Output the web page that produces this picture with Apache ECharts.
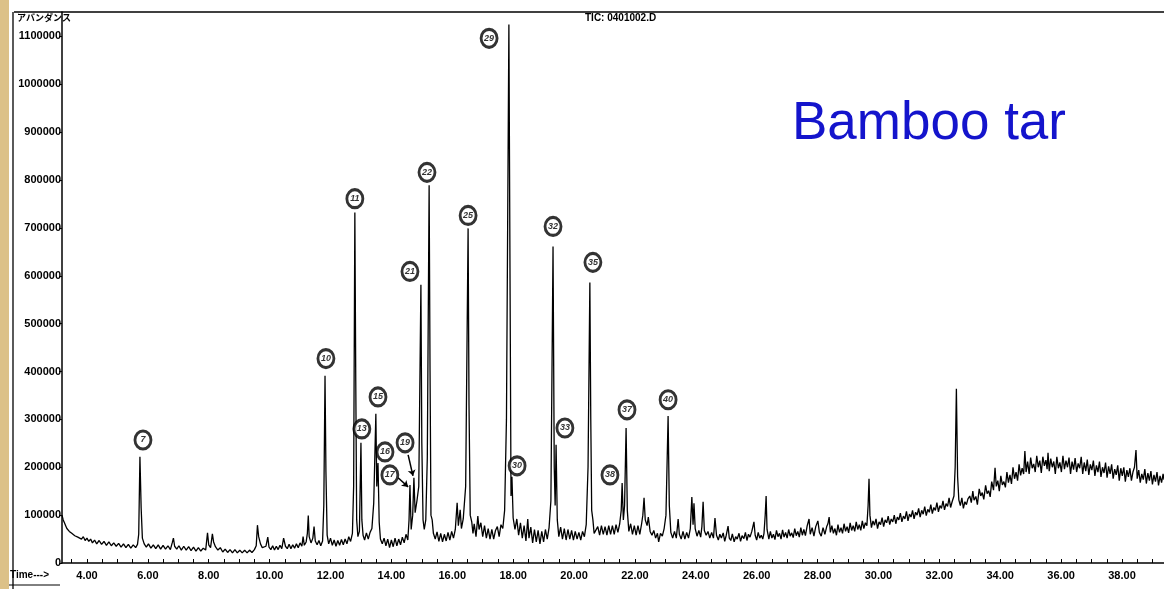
<!DOCTYPE html>
<html><head><meta charset="utf-8">
<script src="https://cdn.jsdelivr.net/npm/echarts@6/dist/echarts.min.js"></script>
<style>html,body{margin:0;padding:0;background:#fff}#c{width:1164px;height:589px}</style>
</head><body><div id="c"></div>
<script>
// retention time (min), abundance (thousands)
const traceA = [[3.18,100],[3.22,90],[3.26,84],[3.30,78],[3.34,72],[3.38,75],[3.42,66],[3.46,70],[3.50,62],[3.55,66],[3.60,57],[3.65,61],[3.70,54],[3.76,58],[3.82,50],[3.88,55],[3.94,47],[4.00,52],[4.06,45],[4.12,50],[4.18,42],[4.25,48],[4.32,40],[4.40,47],[4.48,39],[4.56,45],[4.64,37],[4.72,44],[4.80,36],[4.88,42],[4.96,35],[5.04,41],[5.12,33],[5.20,40],[5.28,32],[5.36,39],[5.44,31],[5.52,38],[5.60,32],[5.66,39],[5.70,60],[5.74,222],[5.78,115],[5.82,52],[5.88,40],[5.95,33],[6.02,40],[6.10,31],[6.18,38],[6.26,30],[6.34,38],[6.42,29],[6.50,37],[6.58,29],[6.66,36],[6.74,28],[6.80,42],[6.84,52],[6.88,35],[6.95,29],[7.02,36],[7.10,27],[7.18,35],[7.26,27],[7.34,34],[7.42,26],[7.50,33],[7.58,25],[7.66,32],[7.74,25],[7.82,31],[7.90,27],[7.96,63],[8.00,38],[8.06,32],[8.12,61],[8.16,44],[8.22,34],[8.30,27],[8.38,32],[8.46,23],[8.54,29],[8.62,22],[8.70,28],[8.78,21],[8.86,28],[8.94,21],[9.02,27],[9.10,21],[9.18,27],[9.26,21],[9.34,27],[9.42,22]];
const traceB = [[9.50,28],[9.56,36],[9.60,79],[9.64,55],[9.70,40],[9.76,32],[9.82,29],[9.88,35],[9.94,54],[9.98,33],[10.04,28],[10.10,36],[10.16,27],[10.22,35],[10.28,28],[10.34,37],[10.40,30],[10.46,52],[10.52,35],[10.58,30],[10.64,39],[10.70,30],[10.76,38],[10.82,31],[10.88,40],[10.94,32],[11.00,42],[11.06,35],[11.10,55],[11.14,37],[11.20,44],[11.24,62],[11.27,99],[11.30,55],[11.36,42],[11.42,52],[11.46,76],[11.50,46],[11.56,38],[11.62,47],[11.68,36],[11.74,46],[11.78,120],[11.82,391],[11.85,190],[11.89,58],[11.94,40],[12.00,52],[12.06,37],[12.12,48],[12.18,35],[12.24,47],[12.30,37],[12.36,49],[12.42,38],[12.48,50],[12.54,40],[12.60,55],[12.66,45],[12.72,62],[12.76,160],[12.80,732],[12.83,380],[12.86,90],[12.90,55],[12.95,66],[13.00,251],[13.03,90],[13.07,58],[13.12,48],[13.18,63],[13.24,50],[13.30,64],[13.36,72],[13.42,125],[13.49,312],[13.52,160],[13.56,209],[13.60,85],[13.64,50],[13.70,40],[13.76,52],[13.82,36],[13.88,50],[13.94,32],[14.00,48],[14.06,34],[14.12,52],[14.18,36],[14.24,50],[14.30,38],[14.36,54],[14.42,42],[14.48,60],[14.54,48],[14.58,90],[14.61,163],[14.65,70],[14.70,100],[14.74,178],[14.78,105],[14.84,130],[14.90,160],[14.97,581],[15.00,250],[15.04,90],[15.08,70],[15.13,90],[15.18,220],[15.24,789],[15.27,400],[15.30,100],[15.34,90],[15.38,62]];
const traceC = [[15.44,50],[15.50,65],[15.56,45],[15.62,62],[15.68,44],[15.74,60],[15.80,46],[15.86,64],[15.92,48],[15.98,66],[16.04,52],[16.10,70],[16.16,126],[16.20,78],[16.26,111],[16.30,72],[16.36,92],[16.44,160],[16.52,699],[16.55,330],[16.59,100],[16.64,86],[16.68,62],[16.72,82],[16.78,55],[16.84,98],[16.88,70],[16.94,84],[17.00,55],[17.06,78],[17.12,52],[17.18,72],[17.24,50],[17.30,70],[17.36,50],[17.42,68],[17.48,76],[17.54,55],[17.60,80],[17.66,72],[17.72,110],[17.78,300],[17.86,1125],[17.90,560],[17.93,140],[17.96,180],[18.00,94],[18.06,70],[18.12,92],[18.18,58],[18.24,84],[18.30,52],[18.36,78],[18.42,46],[18.48,92],[18.52,52],[18.58,75],[18.64,42],[18.70,70],[18.76,44],[18.82,68],[18.88,40],[18.94,66],[19.00,44],[19.06,70],[19.12,50],[19.18,74],[19.24,130],[19.31,661],[19.35,200],[19.38,120],[19.41,247],[19.45,90],[19.50,55],[19.56,75],[19.62,50],[19.68,72],[19.74,48],[19.80,70],[19.86,50],[19.92,68],[19.98,48],[20.04,66],[20.10,50],[20.16,64],[20.22,48],[20.28,66],[20.34,55],[20.40,80],[20.46,200]];
const traceD = [[20.52,586],[20.55,300],[20.58,110],[20.62,90],[20.66,62],[20.72,58],[20.78,76],[20.84,58],[20.90,78],[20.96,60],[21.02,76],[21.08,58],[21.14,78],[21.20,60],[21.26,78],[21.32,60],[21.38,80],[21.44,64],[21.50,82],[21.55,110],[21.58,167],[21.62,90],[21.66,120],[21.71,282],[21.75,110],[21.80,66],[21.86,82],[21.92,60],[21.98,78],[22.04,58],[22.10,78],[22.16,60],[22.22,82],[22.26,100],[22.30,136],[22.34,90],[22.40,78],[22.44,96],[22.50,66],[22.56,58],[22.62,68],[22.68,52],[22.74,62],[22.78,44],[22.84,62],[22.90,56],[22.96,72],[23.02,100],[23.09,307],[23.13,120],[23.18,64],[23.24,52],[23.30,66],[23.36,52],[23.42,92],[23.46,60],[23.52,50],[23.58,66],[23.64,50],[23.70,64],[23.76,52],[23.82,72],[23.87,138],[23.91,80],[23.94,125],[23.98,72],[24.04,56],[24.10,68],[24.16,54],[24.20,76],[24.24,128],[24.28,68],[24.34,58],[24.40,66],[24.46,52],[24.52,64],[24.58,52],[24.63,94],[24.68,58],[24.74,48],[24.79,60],[24.84,52],[24.90,63],[24.95,45],[25.00,58],[25.06,77],[25.10,52],[25.15,47],[25.20,61],[25.26,44],[25.31,55],[25.36,50],[25.42,62],[25.47,45],[25.52,57],[25.58,51],[25.63,64],[25.68,47],[25.73,60],[25.78,54],[25.84,66],[25.88,70],[25.91,86],[25.95,58],[26.00,48],[26.05,64],[26.10,52],[26.15,58],[26.20,50],[26.24,62],[26.28,100],[26.31,140],[26.34,70],[26.40,50]];
const traceE = [[26.45,66],[26.50,52],[26.55,60],[26.60,49],[26.65,68],[26.70,55],[26.75,62],[26.80,50],[26.85,69],[26.90,54],[26.95,64],[27.00,52],[27.05,70],[27.10,56],[27.15,63],[27.20,53],[27.25,72],[27.30,57],[27.35,66],[27.40,54],[27.45,74],[27.50,58],[27.55,70],[27.60,57],[27.66,78],[27.72,92],[27.76,60],[27.82,74],[27.88,56],[27.94,76],[28.01,88],[28.06,64],[28.12,56],[28.18,74],[28.24,60],[28.30,76],[28.34,82],[28.38,96],[28.42,64],[28.47,78],[28.52,62],[28.57,72],[28.62,58],[28.67,80],[28.72,64],[28.77,74],[28.82,62],[28.87,82],[28.92,66],[28.97,76],[29.02,63],[29.07,84],[29.12,68],[29.17,78],[29.22,66],[29.27,86],[29.32,70],[29.37,80],[29.42,68],[29.47,88],[29.52,72],[29.57,84],[29.62,78],[29.66,120],[29.69,176],[29.72,100],[29.77,74],[29.82,88],[29.87,79],[29.92,92],[29.97,72],[30.02,86],[30.07,80],[30.12,95],[30.17,76],[30.22,90],[30.27,84],[30.32,98],[30.37,80],[30.42,92],[30.47,86],[30.52,100],[30.57,82],[30.62,96],[30.67,90],[30.72,104],[30.77,86],[30.82,98],[30.87,92],[30.92,108],[30.97,88],[31.02,102],[31.07,96],[31.12,110],[31.17,92],[31.22,106],[31.27,100],[31.32,114],[31.37,96],[31.42,110],[31.47,102],[31.52,118],[31.57,99],[31.62,112],[31.67,106],[31.72,122],[31.77,103],[31.82,116],[31.87,110],[31.92,126],[31.97,107],[32.02,120],[32.07,114],[32.12,130],[32.17,111],[32.22,124],[32.27,118],[32.32,136],[32.37,116],[32.42,128],[32.48,140],[32.52,200],[32.56,364],[32.60,180],[32.64,132],[32.69,120],[32.74,136],[32.79,114],[32.84,128],[32.89,122],[32.94,134]];
const traceF = [[33.00,140],[33.05,126],[33.10,150],[33.14,131],[33.20,139],[33.25,122],[33.31,155],[33.36,140],[33.41,147],[33.46,133],[33.52,162],[33.57,145],[33.62,151],[33.67,138],[33.72,170],[33.78,152],[33.83,199],[33.87,160],[33.92,172],[33.97,150],[34.02,182],[34.07,163],[34.12,170],[34.17,158],[34.22,190],[34.27,168],[34.32,184],[34.37,165],[34.42,200],[34.47,176],[34.52,190],[34.57,172],[34.62,206],[34.67,183],[34.72,198],[34.77,186],[34.81,234],[34.85,190],[34.90,212],[34.95,186],[35.00,220],[35.05,198],[35.10,207],[35.15,190],[35.20,224],[35.25,200],[35.30,214],[35.35,188],[35.40,222],[35.45,203],[35.50,215],[35.54,196],[35.57,230],[35.61,192],[35.66,218],[35.71,200],[35.76,212],[35.81,186],[35.86,222],[35.91,198],[35.96,210],[36.01,190],[36.06,224],[36.11,196],[36.16,214],[36.21,200],[36.26,220],[36.31,186],[36.36,212],[36.41,195],[36.46,219],[36.51,190],[36.56,208],[36.61,198],[36.66,222],[36.71,186],[36.76,210],[36.81,192],[36.86,216],[36.91,184],[36.96,206],[37.01,194],[37.06,214],[37.11,182],[37.16,204],[37.21,190],[37.26,212],[37.31,180],[37.36,200],[37.41,188],[37.46,210],[37.51,178],[37.56,202],[37.61,186],[37.66,206],[37.71,176],[37.76,196],[37.81,184],[37.86,204],[37.91,172],[37.96,198],[38.01,182],[38.06,200],[38.11,170],[38.16,194],[38.21,180],[38.26,198],[38.31,172],[38.36,190],[38.41,200],[38.46,236],[38.50,176],[38.55,194],[38.60,168],[38.65,186],[38.70,174],[38.75,196],[38.80,166],[38.85,188],[38.90,172],[38.95,192],[39.00,164],[39.05,184],[39.10,170],[39.15,190],[39.20,162],[39.25,182],[39.30,168],[39.35,186],[39.38,174]];

// circled peak numbers and where they sit (time, abundance in thousands)
const peakNames = ['7','10','11','13','15','16','17','19','21','22','25','29','30','32','33','35','38','37','40'];
const peakLabelTime = [5.84,11.85,12.80,13.03,13.56,13.79,13.95,14.45,14.61,15.17,16.52,17.21,18.13,19.31,19.70,20.62,21.18,21.74,23.09];
const peakLabelAbund = [257,427,761,280,347,232,184,251,609,816,726,1096,203,703,282,628,184,320,341];

const xLabelValues = [4,6,8,10,12,14,16,18,20,22,24,26,28,30,32,34,36,38];
const xTickValues = [3.5,4,4.5,5,5.5,6,6.5,7,7.5,8,8.5,9,9.5,10,10.5,11,11.5,12,12.5,13,13.5,14,14.5,15,15.5,16,16.5,17,17.5,18,18.5,19,19.5,20,20.5,21,21.5,22,22.5,23,23.5,24,24.5,25,25.5,26,26.5,27,27.5,28,28.5,29,29.5,30,30.5,31,31.5,32,32.5,33,33.5,34,34.5,35,35.5,36,36.5,37,37.5,38,38.5,39];

const trace = [].concat(traceA, traceB, traceC, traceD, traceE, traceF).map(p => [p[0], p[1] * 1000]);
const labels = peakNames.map((n, i) => ({ name: n, value: [peakLabelTime[i], peakLabelAbund[i] * 1000] }));

const chart = echarts.init(document.getElementById('c'), null, { renderer: 'canvas' });
const FONT = 'Liberation Sans, Arial, sans-serif';
chart.setOption({
  animation: false,
  backgroundColor: '#ffffff',
  grid: { left: 62, right: 0, top: 12, bottom: 26, containLabel: false },
  xAxis: {
    type: 'value', min: 3.18, max: 39.38,
    axisLine: { show: true, onZero: false, lineStyle: { color: '#000', width: 1.5 } },
    axisTick: { show: true, inside: true, length: 4, customValues: xTickValues, lineStyle: { color: '#000', width: 1 } },
    axisLabel: { customValues: xLabelValues, formatter: v => v.toFixed(2), color: '#000', fontFamily: FONT, fontWeight: 'bold', fontSize: 11, margin: 7 },
    splitLine: { show: false }
  },
  yAxis: {
    type: 'value', min: 0, max: 1151000, interval: 100000,
    axisLine: { show: true, lineStyle: { color: '#000', width: 1.5 } },
    axisTick: { show: true, length: 3, lineStyle: { color: '#000', width: 1 } },
    axisLabel: { showMaxLabel: false, color: '#000', fontFamily: FONT, fontWeight: 'bold', fontSize: 11, margin: 1, formatter: v => String(v) },
    splitLine: { show: false }
  },
  series: [
    {
      type: 'line', data: trace, showSymbol: false, symbol: 'none', sampling: false,
      lineStyle: { color: '#000', width: 1.3 }, z: 2,
      markLine: {
        silent: true, symbol: ['none', 'arrow'], symbolSize: 6, label: { show: false },
        lineStyle: { color: '#000', width: 1.5, type: 'solid' },
        data: [
          [{ coord: [14.22, 178000] }, { coord: [14.55, 159000] }],
          [{ coord: [14.55, 226000] }, { coord: [14.71, 182000] }]
        ]
      }
    },
    {
      type: 'scatter', data: labels, symbol: 'circle', symbolSize: [16, 18], z: 5,
      itemStyle: { color: '#fff', borderColor: '#000', borderWidth: 3 },
      label: { show: true, position: 'inside', formatter: p => p.name, color: '#000', fontFamily: FONT, fontWeight: 'bold', fontSize: 9, fontStyle: 'italic' }
    }
  ],
  graphic: [
    { type: 'rect', left: 0, top: 0, shape: { width: 9, height: 589 }, style: { fill: '#dcc188' }, z: 100 },
    { type: 'line', shape: { x1: 14, y1: 12, x2: 1164, y2: 12 }, style: { stroke: '#000', lineWidth: 1.3 }, z: 100 },
    { type: 'line', shape: { x1: 13, y1: 12, x2: 13, y2: 589 }, style: { stroke: '#000', lineWidth: 1.3 }, z: 100 },
    { type: 'line', shape: { x1: 9, y1: 585, x2: 60, y2: 585 }, style: { stroke: '#000', lineWidth: 1 }, z: 100 },
    { type: 'text', left: 17, top: 13, style: { text: 'アバンダンス', font: 'bold 9px "Noto Sans CJK JP", sans-serif', fill: '#000' }, z: 100 },
    { type: 'text', left: 585, top: 13, style: { text: 'TIC: 0401002.D', font: 'bold 10px ' + FONT, fill: '#000' }, z: 100 },
    { type: 'text', left: 10, top: 570, style: { text: 'Time--->', font: 'bold 10px ' + FONT, fill: '#000' }, z: 100 },
    { type: 'text', left: 792, top: 98, style: { text: 'Bamboo tar', font: '53px ' + FONT, fill: '#1414cc' }, z: 100 }
  ]
});
</script></body></html>
